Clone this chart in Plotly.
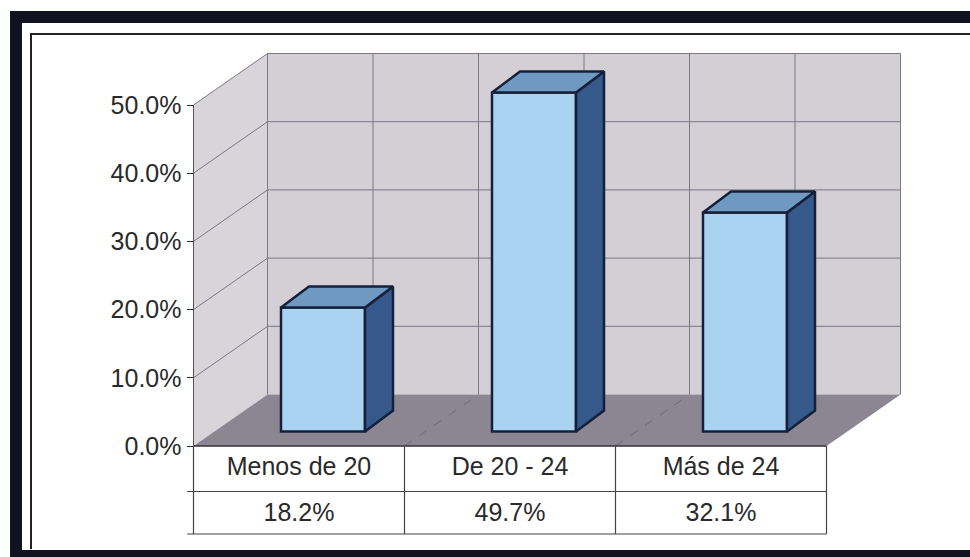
import plotly.graph_objects as go

# ---- data ----
categories = ["Menos de 20", "De 20 - 24", "Más de 24"]
values = [18.2, 49.7, 32.1]
value_labels = ["18.2%", "49.7%", "32.1%"]
y_ticks = [0, 10, 20, 30, 40, 50]
y_tick_labels = ["0.0%", "10.0%", "20.0%", "30.0%", "40.0%", "50.0%"]

# ---- oblique projection, in axis units ----
W, H = 970, 557
PX_X = 211.0      # px per category
PX_Y = 6.82       # px per percentage point
X0, Y0 = 193.5, 446.0
WALL_DX, WALL_DY = 74 / PX_X, 51.5 / PX_Y
BAR_W = 84 / PX_X
BAR_SHIFT = 24 / PX_X
BAR_BASE = 14.5 / PX_Y
BAR_DX, BAR_DY = 28 / PX_X, 21 / PX_Y
ROW1, ROW2, ROW_END = -(469 - Y0) / PX_Y, -(515 - Y0) / PX_Y, -(534 - Y0) / PX_Y
ROW_LINE = -(491.5 - Y0) / PX_Y

WALL = "#d3cfd5"
FLOOR = "#8c8692"
GRID = "#7b7784"
EDGE = "#15203c"
INK = "#2a2a2a"
FRAME = "#11121f"
FONT = "Liberation Sans"


def poly(pts, fill):
    path = "M " + " L ".join(f"{x},{y}" for x, y in pts) + " Z"
    return dict(type="path", path=path, xref="x", yref="y", fillcolor=fill,
                line=dict(width=0), layer="below")


def seg(x0, y0, x1, y1, color=GRID, width=1, dash="solid"):
    return dict(type="line", x0=x0, y0=y0, x1=x1, y1=y1, xref="x", yref="y",
                line=dict(color=color, width=width, dash=dash), layer="below")


def frame(x0, y0, x1, y1, color=FRAME):
    return dict(type="rect", xref="paper", yref="paper", x0=x0 / W, x1=x1 / W,
                y0=1 - y0 / H, y1=1 - y1 / H, fillcolor=color, line=dict(width=0),
                layer="below")


top = y_ticks[-1]
n = len(categories)
shapes = [
    frame(10, 11, 22, 557), frame(10, 11, 970, 23), frame(10, 550, 970, 557),
    frame(30, 33, 32, 549, "#222222"), frame(30, 33, 970, 35, "#222222"),
    poly([(0, 0), (0, top), (WALL_DX, top + WALL_DY), (WALL_DX, WALL_DY)], "#d8d5da"),
    poly([(WALL_DX, WALL_DY), (WALL_DX, top + WALL_DY), (n + WALL_DX, top + WALL_DY),
          (n + WALL_DX, WALL_DY)], WALL),
    poly([(0, 0), (n, 0), (n + WALL_DX, WALL_DY), (WALL_DX, WALL_DY)], FLOOR),
]
for t in y_ticks[1:]:
    shapes.append(seg(0, t, WALL_DX, t + WALL_DY))
    shapes.append(seg(WALL_DX, t + WALL_DY, n + WALL_DX, t + WALL_DY))
for j in range(2 * n + 1):
    shapes.append(seg(WALL_DX + j / 2, WALL_DY, WALL_DX + j / 2, top + WALL_DY))
for j in range(1, n):
    shapes.append(seg(j, 0, j + WALL_DX, WALL_DY, color="#6f6a76", dash="dash"))
# data table under the chart
shapes.append(seg(0, 0, n, 0, color="#333333", width=1.5))
shapes.append(seg(0, 0, 0, top, color="#555555", width=1))
shapes.append(seg(-0.03, ROW_LINE, n, ROW_LINE, color="#444444", width=1.2))
shapes.append(seg(-0.03, ROW_END, n, ROW_END, color="#444444", width=1.2))
for j in range(n + 1):
    shapes.append(seg(j, 0, j, ROW_END, color="#444444", width=1.2))

fig = go.Figure()
lefts = [i + (1 - BAR_W) / 2 + BAR_SHIFT for i in range(n)]
fig.add_trace(go.Bar(
    x=[l + BAR_W / 2 for l in lefts], y=values, base=[BAR_BASE] * n, width=BAR_W,
    marker=dict(color="#a9d3f1", line=dict(color=EDGE, width=2.5)), hoverinfo="skip",
))
for l, v in zip(lefts, values):
    r = l + BAR_W
    t = BAR_BASE + v
    fig.add_trace(go.Scatter(
        x=[r, r + BAR_DX, r + BAR_DX, r, r],
        y=[BAR_BASE, BAR_BASE + BAR_DY, t + BAR_DY, t, BAR_BASE],
        mode="lines", fill="toself", fillcolor="#34598a",
        line=dict(color=EDGE, width=2.5), hoverinfo="skip"))
    fig.add_trace(go.Scatter(
        x=[l, r, r + BAR_DX, l + BAR_DX, l],
        y=[t, t, t + BAR_DY, t + BAR_DY, t],
        mode="lines", fill="toself", fillcolor="#7099c2",
        line=dict(color=EDGE, width=2.5), hoverinfo="skip"))
centers = [i + 0.5 for i in range(n)]
fig.add_trace(go.Scatter(x=centers, y=[ROW1] * n, text=categories, mode="text",
                         textfont=dict(family=FONT, size=25, color=INK), hoverinfo="skip"))
fig.add_trace(go.Scatter(x=centers, y=[ROW2] * n, text=value_labels, mode="text",
                         textfont=dict(family=FONT, size=25, color=INK), hoverinfo="skip"))

fig.update_layout(
    width=W, height=H, autosize=False, showlegend=False, barmode="overlay",
    margin=dict(l=0, r=0, t=0, b=0), paper_bgcolor="white", plot_bgcolor="white",
    shapes=shapes,
    font=dict(family=FONT, color=INK),
    xaxis=dict(range=[-X0 / PX_X, (W - X0) / PX_X], visible=False, fixedrange=True),
    yaxis=dict(
        range=[-(H - Y0) / PX_Y, Y0 / PX_Y], anchor="free", position=X0 / W,
        tickvals=y_ticks, ticktext=y_tick_labels, ticks="outside", ticklen=7,
        tickcolor="#333333", tickfont=dict(family=FONT, size=25, color=INK),
        showgrid=False, zeroline=False, showline=False, fixedrange=True, automargin=False,
    ),
)
fig.write_html("out.html", config=dict(displayModeBar=False),
               post_script="document.body.style.margin='0';document.body.style.overflow='hidden';")
